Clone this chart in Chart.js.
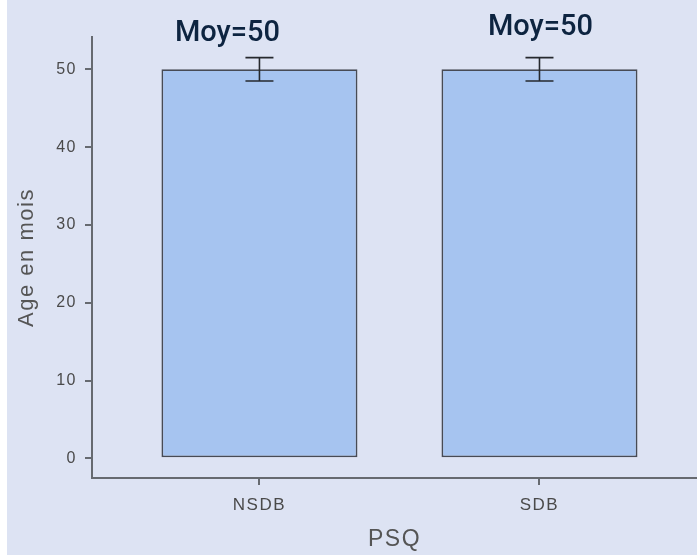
<!DOCTYPE html>
<html>
<head>
<meta charset="utf-8">
<title>Age en mois selon PSQ</title>
<script src="https://cdn.jsdelivr.net/npm/chart.js@4/dist/chart.umd.min.js"></script>
<style>
  html, body { margin: 0; padding: 0; background: #ffffff; }
  #chart { display: block; }
</style>
</head>
<body>
<canvas id="chart" width="697" height="555"></canvas>
<script>
// groups and their mean age (months) with error bar half-width
const groups = ['NSDB', 'SDB'];
const meanAge = [50, 50];
const errAge = [1.5, 1.5];
const yTickValues = [0, 10, 20, 30, 40, 50];
const meanLabels = ['Moy=50', 'Moy=50'];

const BG = '#dde3f3';
const AXIS = '#666a70';
const AXIS_FONT = '"Liberation Sans", Arial, sans-serif';

// light panel behind everything, leaving a thin white strip on the left;
// also spreads the axis lettering a little
const panelBackground = {
    id: 'panelBackground',
    beforeDraw(chart) {
        const ctx = chart.ctx;
        ctx.save();
        ctx.fillStyle = BG;
        ctx.fillRect(7, 0, chart.width - 7, chart.height);
        ctx.restore();
        ctx.letterSpacing = '1.5px';
    }
};

// vertical error bars with caps, drawn on top of the bars
const errorBars = {
    id: 'errorBars',
    afterDatasetsDraw(chart) {
        const ctx = chart.ctx;
        const xs = chart.scales.x;
        const ys = chart.scales.y;
        ctx.save();
        ctx.strokeStyle = '#26292e';
        ctx.lineWidth = 1.6;
        meanAge.forEach((m, i) => {
            const x = xs.getPixelForValue(i);
            const half = (xs.getPixelForValue(i + 0.05) - x);
            const top = ys.getPixelForValue(m + errAge[i]);
            const bot = ys.getPixelForValue(m - errAge[i]);
            ctx.beginPath();
            ctx.moveTo(x, top); ctx.lineTo(x, bot);
            ctx.moveTo(x - half, top); ctx.lineTo(x + half, top);
            ctx.moveTo(x - half, bot); ctx.lineTo(x + half, bot);
            ctx.stroke();
        });
        ctx.restore();
    }
};

// "Moy=.." annotations above each bar
const labelShift = [{dx: -32, dy: -28}, {dx: 1, dy: -34}];
const meanText = {
    id: 'meanText',
    afterDraw(chart) {
        const ctx = chart.ctx;
        const meta = chart.getDatasetMeta(0);
        ctx.save();
        ctx.letterSpacing = '0px';
        ctx.font = '500 29px Roboto, "Noto Sans", sans-serif';
        ctx.fillStyle = '#0d2440';
        ctx.textAlign = 'center';
        ctx.textBaseline = 'alphabetic';
        meta.data.forEach((bar, i) => {
            ctx.fillText(meanLabels[i], bar.x + labelShift[i].dx, bar.y + labelShift[i].dy);
        });
        ctx.restore();
    }
};

new Chart(document.getElementById('chart'), {
    type: 'bar',
    data: {
        datasets: [{
            data: meanAge.map((v, i) => ({x: i, y: v})),
            backgroundColor: '#a6c4f0',
            borderColor: '#474b55',
            borderWidth: 1.8,
            borderSkipped: false,
            barPercentage: 0.7,
            categoryPercentage: 1
        }]
    },
    options: {
        responsive: false,
        animation: false,
        layout: { padding: { left: 0, right: 0, top: 37, bottom: 0 } },
        plugins: {
            legend: { display: false },
            tooltip: { enabled: false }
        },
        scales: {
            x: {
                type: 'linear',
                offset: false,
                min: -0.598,
                max: 1.5625,
                afterBuildTicks: s => { s.ticks = groups.map((g, i) => ({value: i})); },
                afterFit: s => { s.height = 77; },
                ticks: {
                    callback: v => groups[v],
                    color: '#4a4a4a',
                    font: { family: AXIS_FONT, size: 17 },
                    padding: 10,
                    maxRotation: 0
                },
                grid: { offset: false, drawOnChartArea: false, drawTicks: true, tickLength: 7, color: AXIS, lineWidth: 2 },
                border: { color: AXIS, width: 2 },
                title: {
                    display: true,
                    text: 'PSQ',
                    color: '#555555',
                    font: { family: AXIS_FONT, size: 23 },
                    padding: { top: 0, bottom: 2 }
                }
            },
            y: {
                min: -2.53,
                max: 54.15,
                afterBuildTicks: s => { s.ticks = yTickValues.map(v => ({value: v})); },
                afterFit: s => { s.width = 92; },
                ticks: {
                    color: '#4a4a4a',
                    font: { family: AXIS_FONT, size: 16 },
                    padding: 8
                },
                grid: { drawOnChartArea: false, drawTicks: true, tickLength: 7, color: AXIS, lineWidth: 2 },
                border: { color: AXIS, width: 2 },
                title: {
                    display: true,
                    text: 'Age en mois',
                    color: '#555555',
                    font: { family: AXIS_FONT, size: 22 },
                    padding: { top: 14, bottom: 0 }
                }
            }
        }
    },
    plugins: [panelBackground, errorBars, meanText]
});
</script>
</body>
</html>
